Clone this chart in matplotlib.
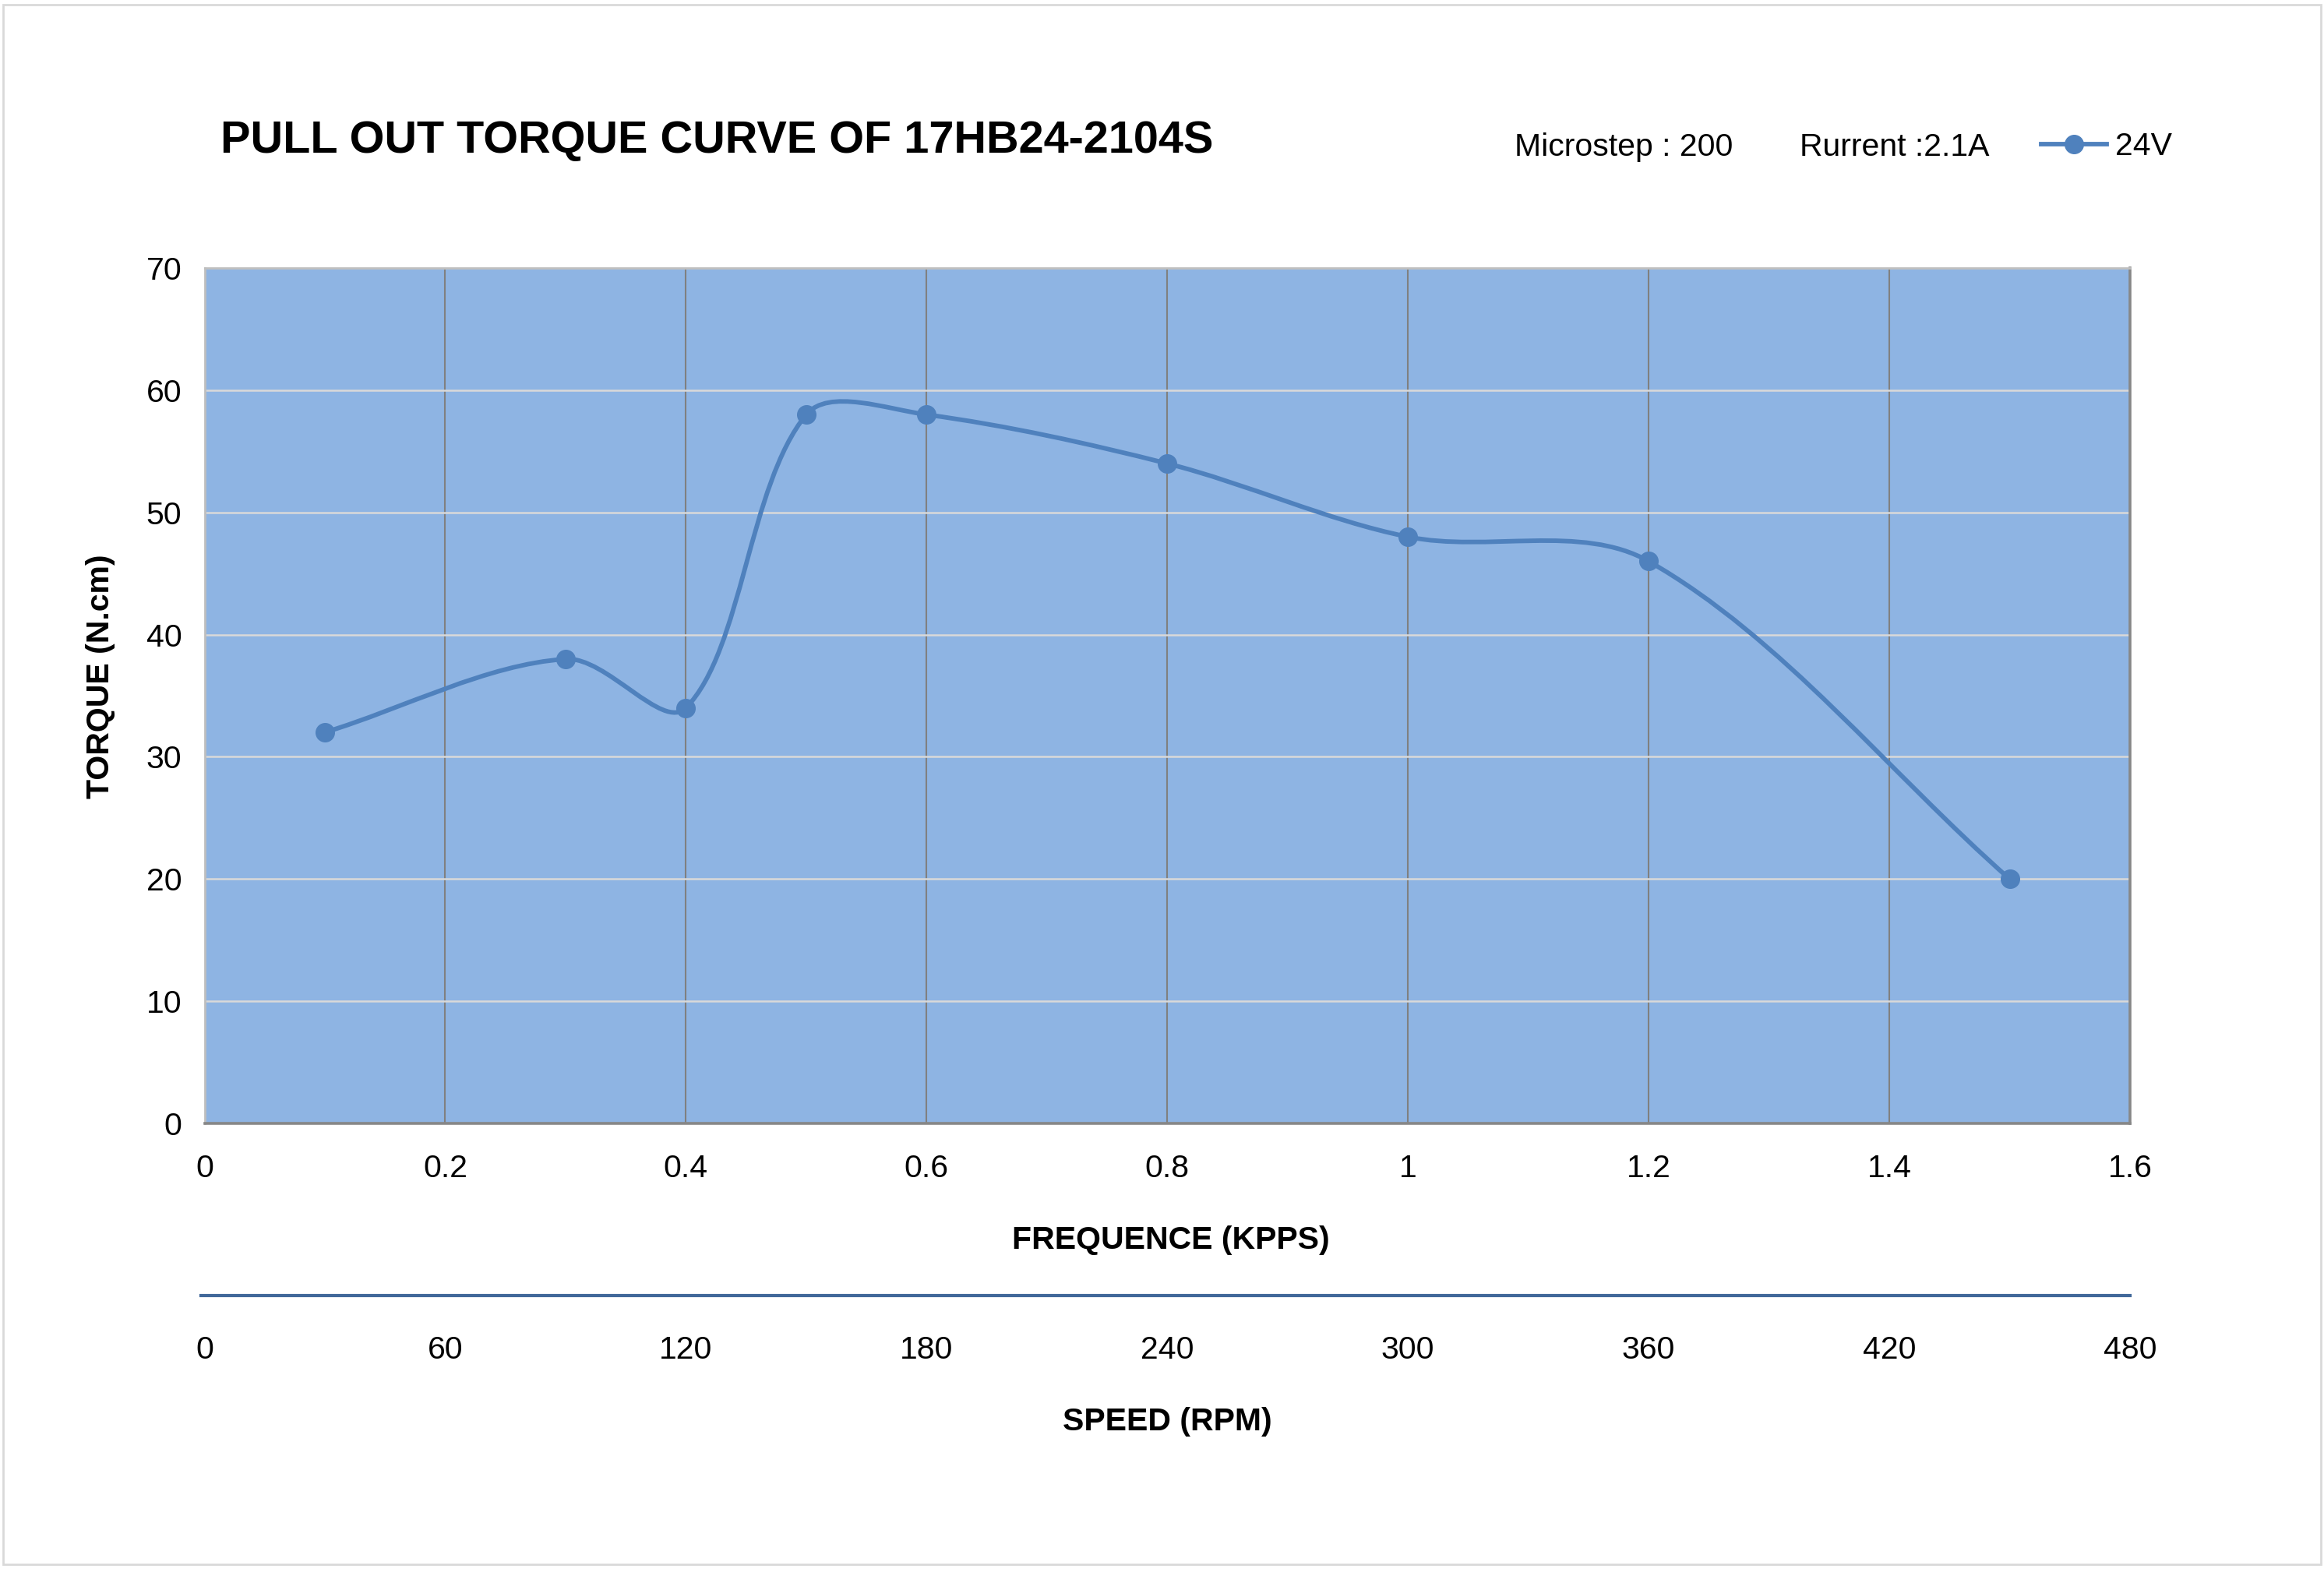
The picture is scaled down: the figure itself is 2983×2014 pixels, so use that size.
import matplotlib
matplotlib.use("Agg")
import matplotlib.pyplot as plt
from matplotlib.path import Path
from matplotlib.patches import PathPatch, Rectangle
from matplotlib.lines import Line2D
import numpy as np

plt.rcParams['font.family'] = ['Liberation Sans', 'DejaVu Sans']

# ---- data ----
freq_kpps = [0.1, 0.3, 0.4, 0.5, 0.6, 0.8, 1.0, 1.2, 1.5]
torque_ncm = [32, 38, 34, 58, 58, 54, 48, 46, 20]
freq_ticks = [0, 0.2, 0.4, 0.6, 0.8, 1, 1.2, 1.4, 1.6]
freq_tick_labels = ["0", "0.2", "0.4", "0.6", "0.8", "1", "1.2", "1.4", "1.6"]
torque_ticks = [0, 10, 20, 30, 40, 50, 60, 70]
speed_ticks = [0, 60, 120, 180, 240, 300, 360, 420, 480]
series_label = "24V"
title = "PULL OUT TORQUE CURVE OF 17HB24-2104S"
note1 = "Microstep : 200"
note2 = "Rurrent :2.1A"

W, H = 2983, 2014
fig = plt.figure(figsize=(W / 100, H / 100), dpi=100)
fig.patch.set_facecolor("white")

# figure border
fig.patches.append(Rectangle((4 / W, 6 / H), (W - 8) / W, (H - 12) / H,
                             transform=fig.transFigure, fill=False,
                             edgecolor="#D9D9D9", linewidth=2.0))

left, right, top, bottom = 262.5, 2734, 344, 1442
ax = fig.add_axes([left / W, 1 - bottom / H, (right - left) / W, (bottom - top) / H])
ax.set_facecolor("#8EB4E3")
ax.set_xlim(0, 1.6)
ax.set_ylim(0, 70)
ax.set_xticks(freq_ticks)
ax.set_xticklabels(freq_tick_labels)
ax.set_yticks(torque_ticks)
ax.tick_params(axis="both", length=0, labelsize=29.5, colors="black")
ax.tick_params(axis="x", pad=28)
ax.tick_params(axis="y", pad=21)
ax.set_axisbelow(True)
ax.xaxis.grid(True, color="#808080", linewidth=1.5)
ax.yaxis.grid(True, color="#D9D9D9", linewidth=1.8)
for s in ["left", "top"]:
    ax.spines[s].set_color("#BFBFBF")
    ax.spines[s].set_linewidth(2)
for s in ["right", "bottom"]:
    ax.spines[s].set_color("#878787")
    ax.spines[s].set_linewidth(2.6)

# smoothed line (spreadsheet-style Bezier smoothing, tangents weighted by
# segment lengths measured on screen)
line_color = "#4F81BD"
fig.canvas.draw()
pts = ax.transData.transform(np.column_stack([freq_kpps, torque_ncm]))
n = len(pts)
seg = np.linalg.norm(np.diff(pts, axis=0), axis=1)
verts = [tuple(pts[0])]
codes = [Path.MOVETO]
for i in range(n - 1):
    p1, p2 = pts[i], pts[i + 1]
    # outgoing control from p1
    if i == 0:
        c1 = p1 + (p2 - p1) / 3
    else:
        t = pts[i + 1] - pts[i - 1]
        c1 = p1 + t * seg[i] / (seg[i - 1] + seg[i]) / 3
    # incoming control to p2
    if i + 1 == n - 1:
        c2 = p2 - (p2 - p1) / 3
    else:
        t = pts[i + 2] - pts[i]
        c2 = p2 - t * seg[i] / (seg[i] + seg[i + 1]) / 3
    verts += [tuple(c1), tuple(c2), tuple(p2)]
    codes += [Path.CURVE4, Path.CURVE4, Path.CURVE4]
data_verts = ax.transData.inverted().transform(np.array(verts))
ax.add_patch(PathPatch(Path(data_verts, codes), facecolor="none",
                       edgecolor=line_color, linewidth=4.2, zorder=3,
                       capstyle="round", joinstyle="round"))
ax.plot(freq_kpps, torque_ncm, linestyle="none", marker="o", markersize=17,
        color=line_color, zorder=4)

# speed axis
ax2 = fig.add_axes([258 / W, 1 - 1663 / H, (right - 258) / W, 0.0001])
ax2.set_xlim(0 - 480 * 4.5 / (right - left), 480)
ax2.patch.set_visible(False)
for s in ["left", "right", "top"]:
    ax2.spines[s].set_visible(False)
ax2.spines["bottom"].set_color("#41689A")
ax2.spines["bottom"].set_linewidth(3)
ax2.set_yticks([])
ax2.set_xticks(speed_ticks)
ax2.tick_params(axis="x", length=0, labelsize=29.5, pad=37)

# axis titles
fig.text(1502.5 / W, 1 - 1603 / H, "FREQUENCE (KPPS)", ha="center", va="baseline",
         fontsize=29.5, fontweight="bold")
fig.text(1498 / W, 1 - 1836 / H, "SPEED (RPM)", ha="center", va="baseline",
         fontsize=29.5, fontweight="bold")
fig.text(140 / W, 1 - 868.5 / H, "TORQUE (N.cm)", ha="center", va="baseline",
         rotation=90, rotation_mode="anchor", fontsize=29.5, fontweight="bold")

# title and notes
fig.text(283 / W, 1 - 196 / H, title, ha="left", va="baseline",
         fontsize=41.5, fontweight="bold")
fig.text(1944 / W, 1 - 200 / H, note1, ha="left", va="baseline", fontsize=29.5)
fig.text(2310 / W, 1 - 200 / H, note2, ha="left", va="baseline", fontsize=29.5)

handle = Line2D([], [], color=line_color, linewidth=4.2, marker="o", markersize=17)
leg = fig.legend([handle], [series_label], loc="center left",
                 bbox_to_anchor=(2620 / W, 1 - 188 / H), frameon=False,
                 fontsize=29.5, handlelength=2.05, handletextpad=0.28,
                 borderpad=0, borderaxespad=0)

fig.savefig("out.png", dpi=100, facecolor="white")
